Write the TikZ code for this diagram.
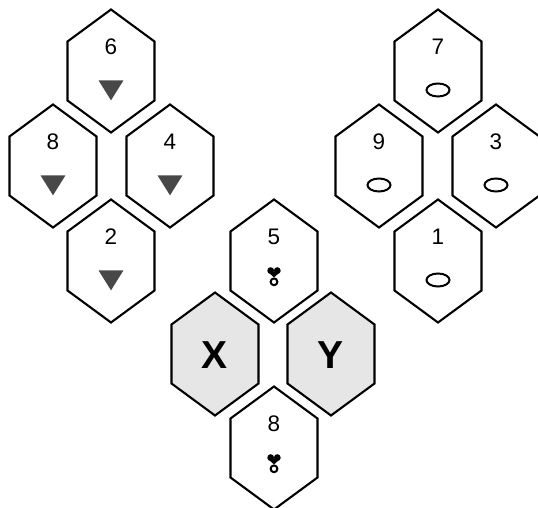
\documentclass[tikz,border=0pt]{standalone}
\usepackage{fontspec}
\setmainfont{Liberation Sans}
\usetikzlibrary{shapes.geometric}
\definecolor{xgray}{HTML}{E6E6E6}
\definecolor{trigray}{HTML}{484848}
\tikzset{
  hexline/.style={draw=black,line width=2.1pt,line join=miter},
  num/.style={inner sep=0pt,font=\fontsize{22.5}{22.5}\selectfont},
  big/.style={inner sep=0pt,font=\fontsize{39}{39}\selectfont\bfseries},
  tri/.style={regular polygon,regular polygon sides=3,shape border rotate=180,fill=trigray,draw=none,minimum size=26.7pt,inner sep=0pt,xscale=1.08,transform shape},
  ring/.style={ellipse,draw=black,line width=2pt,minimum width=23pt,minimum height=13pt,inner sep=0pt}
}
\newcommand{\hexa}[3]{%
  \draw[hexline,fill=#3,shift={(#1,#2)}] (-43.5,-29.5) -- (0,-61.5) -- (43.5,-29.5) -- (43.5,29.5) -- (0,61.5) -- (-43.5,29.5) -- cycle;}
\newcommand{\heartring}[3]{%
  \coordinate (#3) at (#1,#2);
  \begin{scope}[shift={(#1,#2)}]
    \fill[black] (-3.3,-5.4) circle (3.4pt);
    \fill[black] (3.3,-5.4) circle (3.4pt);
    \fill[black] (-6.5,-4.4) -- (6.5,-4.4) -- (0,1.4) -- cycle;
    \draw[black,line width=2pt] (0,5.8) circle (3.4pt);
  \end{scope}}
\begin{document}
\begin{tikzpicture}[x=1pt,y=-1pt]
\useasboundingbox (0,0) rectangle (538,508);
% left cluster
\hexa{111}{71}{white}
\hexa{53}{166}{white}
\hexa{170}{166}{white}
\hexa{111}{261}{white}
\node[num] (n6) at (111,47) {6};
\node[num] (n8a) at (53,142) {8};
\node[num] (n4) at (170,142) {4};
\node[num] (n2) at (111,237) {2};
\node[tri] (t6) at (111,87) {};
\node[tri] (t8) at (53,182) {};
\node[tri] (t4) at (170,182) {};
\node[tri] (t2) at (111,277) {};
% right cluster
\hexa{438}{71}{white}
\hexa{379}{166}{white}
\hexa{496}{166}{white}
\hexa{438}{261}{white}
\node[num] (n7) at (438,47) {7};
\node[num] (n9) at (379,142) {9};
\node[num] (n3) at (496,142) {3};
\node[num] (n1) at (438,237) {1};
\node[ring] (c7) at (438,90) {};
\node[ring] (c9) at (379,185) {};
\node[ring] (c3) at (496,185) {};
\node[ring] (c1) at (438,280) {};
% middle cluster
\hexa{274}{261}{white}
\hexa{215}{354}{xgray}
\hexa{331}{354}{xgray}
\hexa{274}{448}{white}
\node[num] (n5) at (274,237) {5};
\node[num] (n8b) at (274,424) {8};
\node[big] (x) at (215,355) {X};
\node[big] (y) at (331,355) {Y};
\heartring{274}{276}{s5}
\heartring{274}{463}{s8}
\end{tikzpicture}
\end{document}
